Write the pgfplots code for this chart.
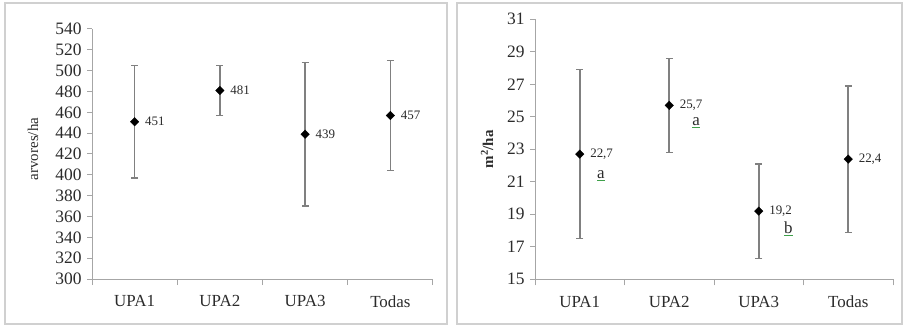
\documentclass[border=0pt]{standalone}
\usepackage{pgfplots}
\pgfplotsset{compat=1.18}
\usepackage{fontspec}
\setmainfont{Liberation Serif}
\definecolor{axgray}{HTML}{A6A6A6}
\definecolor{bargray}{HTML}{808080}
\definecolor{txt}{HTML}{2B2B2B}
\definecolor{framec}{HTML}{D0D0D0}
\definecolor{spell}{HTML}{3FA04A}

\pgfplotstableread{
x y e lab
1 451 54 451
2 481 24 481
3 439 69 439
4 457 52.5 457
}\arvores
\pgfplotstableread{
x y e lab
1 22.7 5.2 22,7
2 25.7 2.9 25,7
3 19.2 2.9 19,2
4 22.4 4.5 22,4
}\area

\pgfplotsset{
  mystyle/.style={
    scale only axis, anchor=south west,
    axis x line*=bottom, axis y line*=left,
    axis line style={axgray, line width=1bp},
    xmin=0.5, xmax=4.5, xtick={1,2,3,4},
    xticklabels={UPA1,UPA2,UPA3,Todas},
    major x tick style={draw=none},
    minor xtick={0.5,1.5,2.5,3.5,4.5},
    minor x tick style={axgray, line width=1bp},
    minor tick length=6bp,
    major tick length=5bp,
    tick align=outside,
    y tick style={axgray, line width=1bp},
    xticklabel style={font=\fontsize{17}{19}\selectfont, text=txt, yshift=-8bp},
    yticklabel style={font=\fontsize{17.5}{19}\selectfont, text=txt, xshift=-2bp},
    /pgf/number format/assume math mode=true,
    label style={font=\fontsize{15}{17}\selectfont, text=txt},
    clip=false,
  },
  myplot/.style={
    only marks, mark=square*, mark size=3bp,
    mark options={rotate=45, fill=black, draw=black},
    error bars/y dir=both, error bars/y explicit,
    error bars/error bar style={bargray, line width=1.6bp},
    error bars/error mark options={rotate=90, mark size=3.5bp, bargray, line width=1.2bp},
  },
  mynodes/.style={
    point meta=explicit symbolic, nodes near coords,
    every node near coord/.append style={anchor=west, xshift=7bp, yshift=0bp,
      font=\fontsize{13}{15}\selectfont, text=txt},
  },
}

\begin{document}
\begin{tikzpicture}
\path[use as bounding box] (0,0) rectangle (905bp,327bp);
\draw[framec, line width=1.5bp] (5bp,3bp) rectangle (447bp,324bp);
\draw[framec, line width=1.5bp] (457bp,3bp) rectangle (902bp,324bp);

\begin{axis}[mystyle,
  at={(92bp,48bp)}, width=341bp, height=250bp,
  ymin=300, ymax=540, ytick={300,320,...,540},
  ylabel={arvores/ha},
  ylabel style={at={(axis description cs:-0.173,0.52)}, anchor=center},
]
\addplot+[myplot, mynodes] table[x=x, y=y, y error=e, meta=lab] {\arvores};
\end{axis}

\begin{axis}[mystyle,
  at={(535bp,47.7bp)}, width=358bp, height=260bp,
  ymin=15, ymax=31, ytick={15,17,...,31},
  ylabel={\textbf{m\textsuperscript{2}/ha}},
  ylabel style={at={(axis description cs:-0.134,0.5)}, anchor=center},
]
\addplot+[myplot, mynodes] table[x=x, y=y, y error=e, meta=lab] {\area};
\node[anchor=base, inner sep=0pt, text=txt, font=\fontsize{17}{19}\selectfont] (la1) at (axis cs:1.237,21.23) {a};
\node[anchor=base, inner sep=0pt, text=txt, font=\fontsize{17}{19}\selectfont] (la2) at (axis cs:2.30,24.48) {a};
\node[anchor=base, inner sep=0pt, text=txt, font=\fontsize{17}{19}\selectfont] (lb3) at (axis cs:3.33,17.83) {b};
\draw[spell, line width=0.9bp] ([yshift=-2.5bp]la1.base west) -- ([yshift=-2.5bp]la1.base east);
\draw[spell, line width=0.9bp] ([yshift=-2.5bp]la2.base west) -- ([yshift=-2.5bp]la2.base east);
\draw[spell, line width=0.9bp] ([yshift=-2.5bp]lb3.base west) -- ([yshift=-2.5bp]lb3.base east);
\end{axis}
\end{tikzpicture}
\end{document}
